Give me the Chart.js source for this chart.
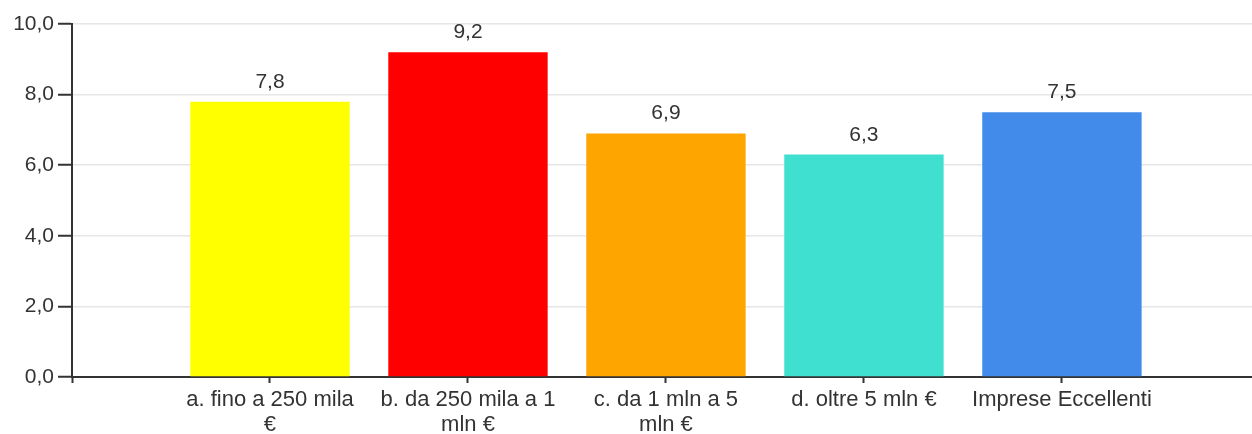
<!DOCTYPE html>
<html lang="it">
<head>
    <meta charset="UTF-8">
    <title>Imprese</title>
    <script src="https://cdn.jsdelivr.net/npm/chart.js"></script>
    <style>
        body { margin: 0; background: #fff; overflow: hidden; }
    </style>
</head>
<body>
    <canvas id="chart" width="1252" height="434"></canvas>

    <script>
        // categories (multi-line ones are split as in the picture)
        const categories = [
            ['a. fino a 250 mila', '€'],
            ['b. da 250 mila a 1', 'mln €'],
            ['c. da 1 mln a 5', 'mln €'],
            'd. oltre 5 mln €',
            'Imprese Eccellenti'
        ];
        const values = [7.8, 9.2, 6.9, 6.3, 7.5];
        const barColors = ['#ffff00', '#ff0000', '#ffa500', '#40e0d0', '#428bea'];
        const yTicks = [0, 2, 4, 6, 8, 10];

        const fmt = v => v.toFixed(1).replace('.', ',');
        const font = { family: 'Liberation Sans, Arial, sans-serif', size: 21 };

        // draw the value above each bar
        const valueLabels = {
            id: 'valueLabels',
            afterDatasetsDraw(chart) {
                const ctx = chart.ctx;
                const meta = chart.getDatasetMeta(0);
                ctx.save();
                ctx.font = font.size + 'px ' + font.family;
                ctx.fillStyle = '#333';
                ctx.textAlign = 'center';
                ctx.textBaseline = 'alphabetic';
                meta.data.forEach((bar, i) => {
                    ctx.fillText(fmt(values[i]), bar.x, bar.y - 14);
                });
                ctx.restore();
            }
        };

        const ctx = document.getElementById('chart').getContext('2d');
        new Chart(ctx, {
            type: 'bar',
            data: {
                datasets: [{
                    data: values.map((v, i) => ({ x: i + 1, y: v })),
                    backgroundColor: barColors,
                    borderWidth: 0,
                    barPercentage: 1,
                    categoryPercentage: 0.805
                }]
            },
            options: {
                responsive: false,
                animation: false,
                layout: { padding: { top: 24, right: 0, left: 0, bottom: 0 } },
                plugins: {
                    legend: { display: false },
                    tooltip: { enabled: false }
                },
                scales: {
                    x: {
                        type: 'linear',
                        min: 0,
                        max: 5.96,
                        offset: false,
                        afterBuildTicks: s => {
                            s.ticks = [0, 1, 2, 3, 4, 5].map(v => ({ value: v }));
                        },
                        afterFit: s => { s.height = 57; },
                        grid: {
                            offset: false,
                            drawOnChartArea: false,
                            tickLength: 6,
                            tickColor: '#333',
                            tickWidth: 2
                        },
                        border: { color: '#333', width: 2 },
                        ticks: {
                            autoSkip: false,
                            maxRotation: 0,
                            padding: 4,
                            color: '#333',
                            font: { ...font, size: 22, lineHeight: 1.15 },
                            callback: v => v === 0 ? '' : categories[v - 1]
                        }
                    },
                    y: {
                        min: 0,
                        max: 10,
                        afterBuildTicks: s => {
                            s.ticks = yTicks.map(v => ({ value: v }));
                        },
                        afterFit: s => { s.width = 72; },
                        grid: {
                            color: '#e6e6e6',
                            lineWidth: 1.5,
                            tickLength: 14,
                            tickColor: '#333',
                            tickWidth: 2
                        },
                        border: { color: '#333', width: 2 },
                        ticks: {
                            padding: 4,
                            color: '#333',
                            font: font,
                            callback: v => fmt(v)
                        }
                    }
                }
            },
            plugins: [valueLabels]
        });
    </script>
</body>
</html>
